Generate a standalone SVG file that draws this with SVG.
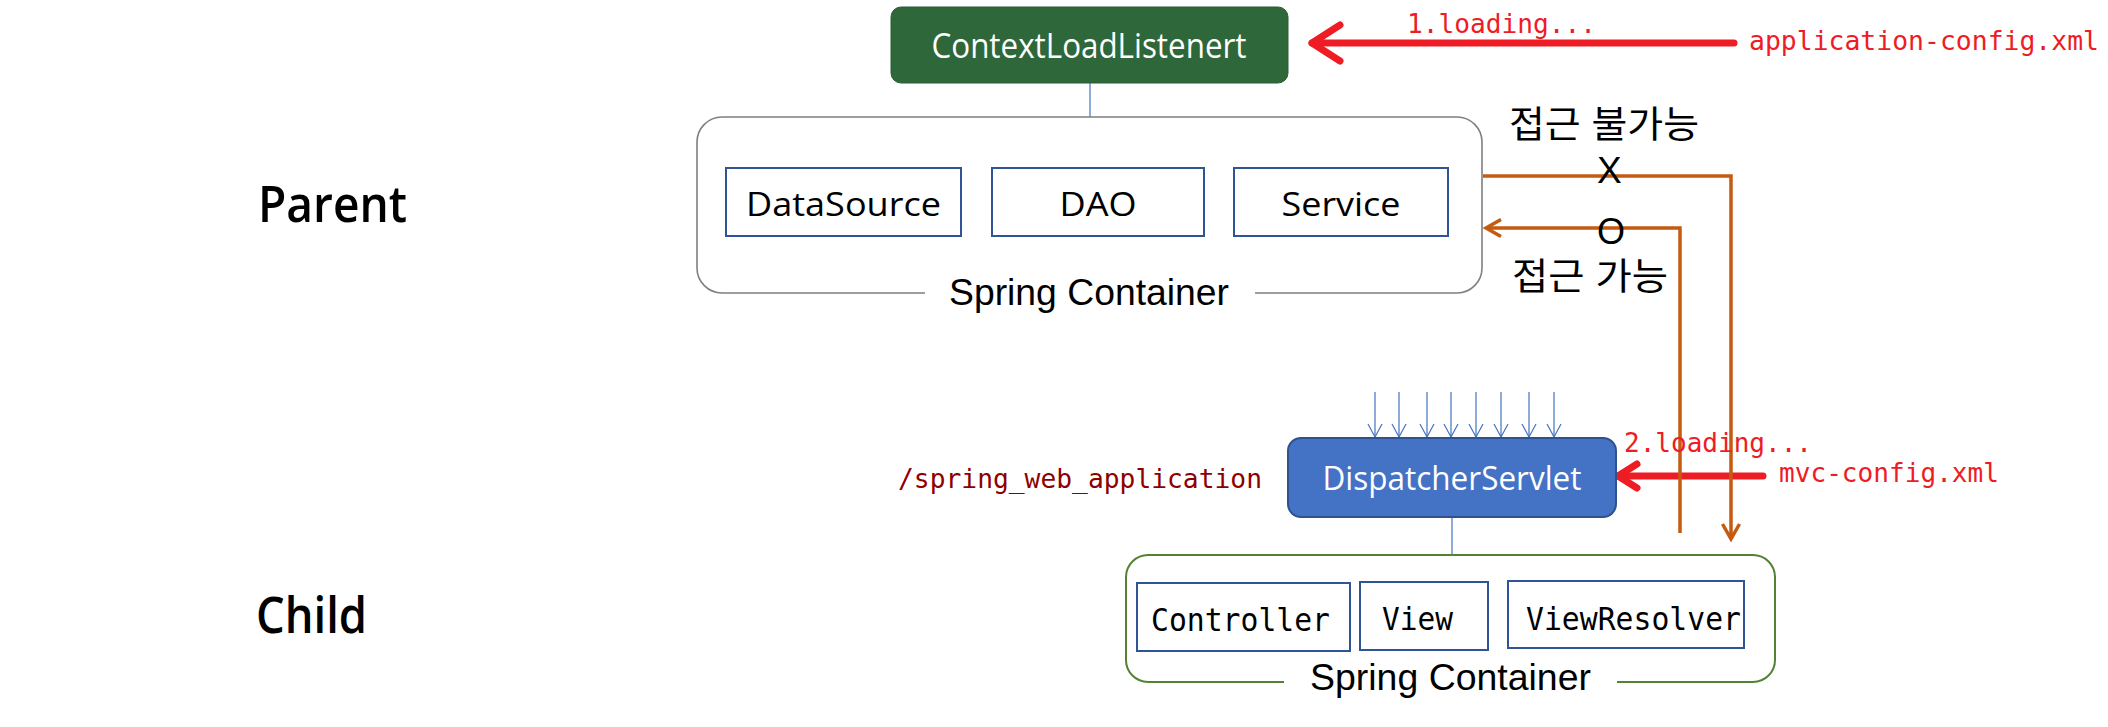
<svg xmlns="http://www.w3.org/2000/svg" width="2108" height="727" viewBox="0 0 2108 727">
<style>
.mono{font-family:"DejaVu Sans Mono","Liberation Mono",monospace;}
.red{fill:#EE1C24;}
.ui{font-family:"Open Sans","Noto Sans",sans-serif;}
.arial{font-family:"Liberation Sans",Arial,sans-serif;}
.kr{font-family:"Liberation Sans","Noto Sans CJK KR",sans-serif;}
.box{fill:#fff;stroke:#2F5597;stroke-width:2;}
.orange{stroke:#C55A11;stroke-width:3.5;fill:none;}
.redline{stroke:#EE1C24;stroke-width:7;fill:none;stroke-linecap:round;}
.thin{stroke:#4472C4;stroke-width:1.2;fill:none;}
</style>
<defs>
<marker id="blueHead" viewBox="-15 -9 17 18" markerWidth="17" markerHeight="18" refX="0" refY="0" orient="auto" markerUnits="userSpaceOnUse">
<path d="M-13,-7 L0,0 L-13,7" fill="none" stroke="#4472C4" stroke-width="1.2"/>
</marker>
<marker id="orangeHead" viewBox="-20 -12 24 24" markerWidth="24" markerHeight="24" refX="0" refY="0" orient="auto" markerUnits="userSpaceOnUse">
<path d="M-15,-8.5 L0,0 L-15,8.5" fill="none" stroke="#C55A11" stroke-width="3.5" stroke-linejoin="miter"/>
</marker>
<marker id="redHeadL" viewBox="-36 -26 42 52" markerWidth="42" markerHeight="52" refX="0" refY="0" orient="auto" markerUnits="userSpaceOnUse">
<path d="M-28,-18 L0,0 L-28,18" fill="none" stroke="#EE1C24" stroke-width="7" stroke-linecap="round" stroke-linejoin="round"/>
</marker>
<marker id="redHeadS" viewBox="-28 -20 34 40" markerWidth="34" markerHeight="40" refX="0" refY="0" orient="auto" markerUnits="userSpaceOnUse">
<path d="M-19,-12 L0,0 L-19,12" fill="none" stroke="#EE1C24" stroke-width="7" stroke-linecap="round" stroke-linejoin="round"/>
</marker>
</defs>
<rect width="2108" height="727" fill="#fff"/>

<g id="labels">
<text x="258" y="222" class="ui" font-size="50" font-weight="600" textLength="149" lengthAdjust="spacingAndGlyphs">Parent</text>
<text x="256" y="633" class="ui" font-size="50" font-weight="600" textLength="111" lengthAdjust="spacingAndGlyphs">Child</text>
<text x="898" y="488" class="mono" font-size="27" fill="#8E0000" textLength="364" lengthAdjust="spacingAndGlyphs">/spring_web_application</text>
</g>

<g id="connectors">
<line x1="1090" y1="83" x2="1090" y2="117" class="thin"/>
<line x1="1452" y1="517" x2="1452" y2="555" class="thin"/>
<line x1="1375" y1="392" x2="1375" y2="437" class="thin" marker-end="url(#blueHead)"/>
<line x1="1399" y1="392" x2="1399" y2="437" class="thin" marker-end="url(#blueHead)"/>
<line x1="1427" y1="392" x2="1427" y2="437" class="thin" marker-end="url(#blueHead)"/>
<line x1="1451" y1="392" x2="1451" y2="437" class="thin" marker-end="url(#blueHead)"/>
<line x1="1476" y1="392" x2="1476" y2="437" class="thin" marker-end="url(#blueHead)"/>
<line x1="1501" y1="392" x2="1501" y2="437" class="thin" marker-end="url(#blueHead)"/>
<line x1="1529" y1="392" x2="1529" y2="437" class="thin" marker-end="url(#blueHead)"/>
<line x1="1554" y1="392" x2="1554" y2="437" class="thin" marker-end="url(#blueHead)"/>
<line x1="1734" y1="43" x2="1312" y2="43" class="redline" marker-end="url(#redHeadL)"/>
<line x1="1763" y1="476" x2="1618" y2="476" class="redline" marker-end="url(#redHeadS)"/>
<path d="M1483,176 H1731 V539" class="orange" marker-end="url(#orangeHead)"/>
<path d="M1680,533 V228 H1486" class="orange" marker-end="url(#orangeHead)"/>
<text x="1407" y="33" class="mono red" font-size="27" textLength="189" lengthAdjust="spacingAndGlyphs">1.loading...</text>
<text x="1749" y="50" class="mono red" font-size="27" textLength="350" lengthAdjust="spacingAndGlyphs">application-config.xml</text>
<text x="1624" y="452" class="mono red" font-size="27" textLength="188" lengthAdjust="spacingAndGlyphs">2.loading...</text>
<text x="1779" y="482" class="mono red" font-size="27" textLength="220" lengthAdjust="spacingAndGlyphs">mvc-config.xml</text>
<text x="1509" y="138" class="kr" font-size="37" textLength="190" lengthAdjust="spacingAndGlyphs">접근 불가능</text>
<text x="1597" y="183" class="arial" font-size="37">X</text>
<text x="1597" y="244" class="arial" font-size="36">O</text>
<text x="1512" y="290" class="kr" font-size="37" textLength="156" lengthAdjust="spacingAndGlyphs">접근 가능</text>
</g>

<g id="contextLoadListener">
<rect x="891" y="7" width="397" height="76" rx="10" fill="#2E673A" stroke="#2A5E35" stroke-width="1"/>
<text x="1089" y="58" class="ui" font-size="34" fill="#fff" text-anchor="middle" textLength="315" lengthAdjust="spacingAndGlyphs">ContextLoadListenert</text>
</g>

<g id="parentContainer">
<rect x="697" y="117" width="785" height="176" rx="25" fill="none" stroke="#7F7F7F" stroke-width="1.6"/>
<rect x="925" y="284" width="330" height="18" fill="#fff"/>
<text x="949" y="305" class="arial" font-size="36" textLength="280" lengthAdjust="spacingAndGlyphs">Spring Container</text>
</g>
<g id="dataSource">
<rect x="726" y="168" width="235" height="68" class="box"/>
<text x="843.5" y="216" class="ui" font-size="33" text-anchor="middle" textLength="195" lengthAdjust="spacingAndGlyphs">DataSource</text>
</g>
<g id="dao">
<rect x="992" y="168" width="212" height="68" class="box"/>
<text x="1098" y="216" class="ui" font-size="33" text-anchor="middle" textLength="77" lengthAdjust="spacingAndGlyphs">DAO</text>
</g>
<g id="service">
<rect x="1234" y="168" width="214" height="68" class="box"/>
<text x="1341" y="216" class="ui" font-size="33" text-anchor="middle" textLength="119" lengthAdjust="spacingAndGlyphs">Service</text>
</g>

<g id="dispatcherServlet">
<rect x="1288" y="438" width="328" height="79" rx="13" fill="#4472C4" stroke="#2F528F" stroke-width="2"/>
<text x="1452" y="490" class="ui" font-size="32" fill="#fff" text-anchor="middle" textLength="259" lengthAdjust="spacingAndGlyphs">DispatcherServlet</text>
</g>

<g id="childContainer">
<rect x="1126" y="555" width="649" height="127" rx="22" fill="none" stroke="#548235" stroke-width="2"/>
<rect x="1284" y="672" width="333" height="18" fill="#fff"/>
<text x="1310" y="690" class="arial" font-size="36" textLength="281" lengthAdjust="spacingAndGlyphs">Spring Container</text>
</g>
<g id="controller">
<rect x="1137" y="583" width="213" height="68" class="box"/>
<text x="1151" y="631" class="mono" font-size="32" textLength="179" lengthAdjust="spacingAndGlyphs">Controller</text>
</g>
<g id="view">
<rect x="1360" y="582" width="128" height="68" class="box"/>
<text x="1382" y="630" class="mono" font-size="32" textLength="71" lengthAdjust="spacingAndGlyphs">View</text>
</g>
<g id="viewResolver">
<rect x="1508" y="581" width="236" height="67" class="box"/>
<text x="1526" y="630" class="mono" font-size="32" textLength="215" lengthAdjust="spacingAndGlyphs">ViewResolver</text>
</g>
</svg>
